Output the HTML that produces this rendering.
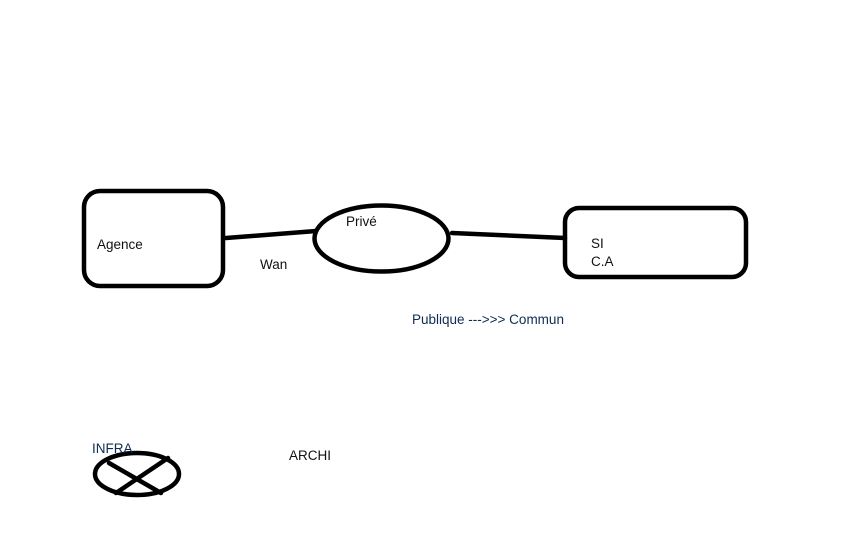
<!DOCTYPE html>
<html><head><meta charset="utf-8"><style>
html,body{margin:0;padding:0;background:#fff;width:864px;height:540px;overflow:hidden}
svg{display:block}
text{font-family:"Liberation Sans",sans-serif;font-size:13.5px}
</style></head><body>
<svg width="864" height="540" viewBox="0 0 864 540" xmlns="http://www.w3.org/2000/svg">
<g fill="none" stroke="#000" stroke-width="4.5" stroke-linecap="round">
<rect x="84" y="191" width="139" height="95" rx="16"/>
<ellipse cx="381.5" cy="238.5" rx="67" ry="33"/>
<rect x="565" y="208" width="181" height="69" rx="14"/>
<line x1="226" y1="238" x2="316" y2="231"/>
<line x1="452" y1="233" x2="565" y2="238"/>
<ellipse cx="137" cy="474" rx="42" ry="21"/>
<line x1="109" y1="463" x2="161" y2="493"/>
<line x1="168" y1="458" x2="116" y2="493"/>
</g>
<g fill="#111">
<text x="97" y="249">Agence</text>
<text x="260" y="269">Wan</text>
<text x="346" y="226">Privé</text>
<text x="591" y="248">SI</text>
<text x="591" y="266">C.A</text>
<text x="289" y="460">ARCHI</text>
</g>
<g fill="#0d2c52">
<text x="412" y="324">Publique ---&gt;&gt;&gt; Commun</text>
<text x="92" y="453">INFRA</text>
</g>
</svg>
</body></html>
